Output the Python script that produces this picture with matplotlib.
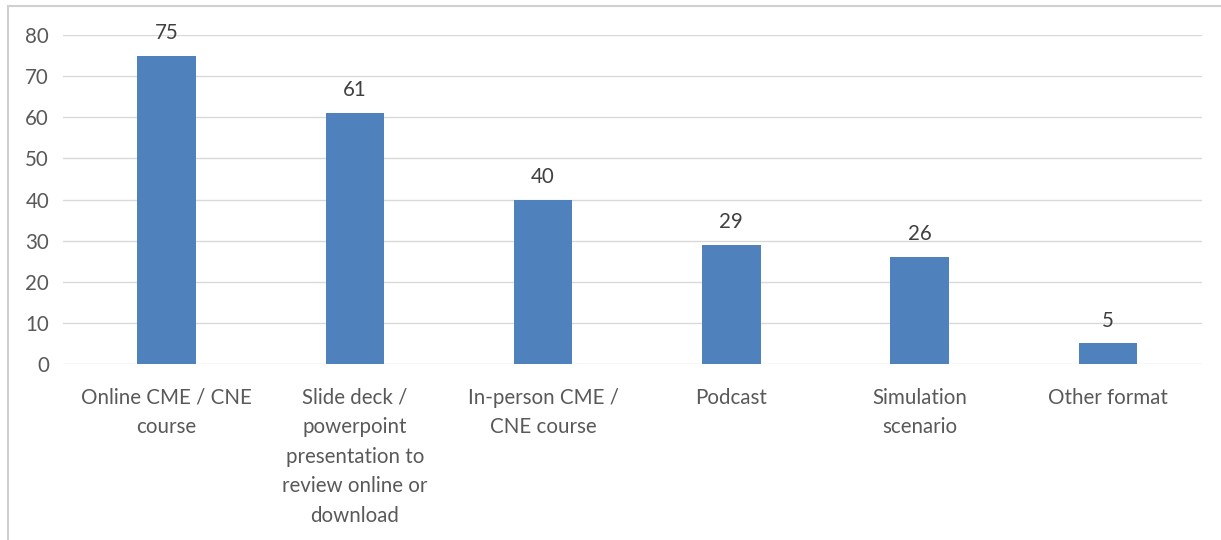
import matplotlib
matplotlib.use("Agg")
import matplotlib.pyplot as plt
from matplotlib.patches import Rectangle

categories = ["Online CME / CNE\ncourse",
              "Slide deck /\npowerpoint\npresentation to\nreview online or\ndownload",
              "In-person CME /\nCNE course",
              "Podcast",
              "Simulation\nscenario",
              "Other format"]
values = [75, 61, 40, 29, 26, 5]
yticks = [0, 10, 20, 30, 40, 50, 60, 70, 80]

W, H = 1221, 540
fig = plt.figure(figsize=(W/100, H/100), dpi=100)
fig.patch.set_facecolor("white")

# outer chart frame
fig.add_artist(Rectangle((8/W, -0.05), 1.2, 1 - 6/H + 0.05, transform=fig.transFigure,
                         fill=False, edgecolor="#D0D0D0", linewidth=1.5))

ax = fig.add_axes([63/W, 1 - 364/H, (1202-63)/W, (364-35)/H])
x = list(range(len(categories)))
ax.bar(x, values, width=0.31, color="#4F81BD", zorder=3)
ax.set_xlim(-0.55, 5.5)
ax.set_ylim(0, 80)
ax.set_yticks(yticks)
ax.grid(axis="y", color="#D9D9D9", linewidth=1, zorder=0)
for s in ax.spines.values():
    s.set_visible(False)
ax.tick_params(axis="both", length=0, colors="#595959", labelsize=14.8)
ax.tick_params(axis="y", pad=10)
ax.tick_params(axis="x", pad=17)
ax.set_xticks(x)
ax.set_xticklabels(categories, linespacing=1.6, va="top")
for lbl in ax.get_xticklabels() + ax.get_yticklabels():
    lbl.set_fontfamily("Lato")
for xi, v in zip(x, values):
    ax.annotate(str(v), (xi, v), xytext=(0, 16.5), textcoords="offset points",
                ha="center", va="center", color="#404040", fontsize=14.8, family="Lato")

fig.savefig("out.png", dpi=100)
